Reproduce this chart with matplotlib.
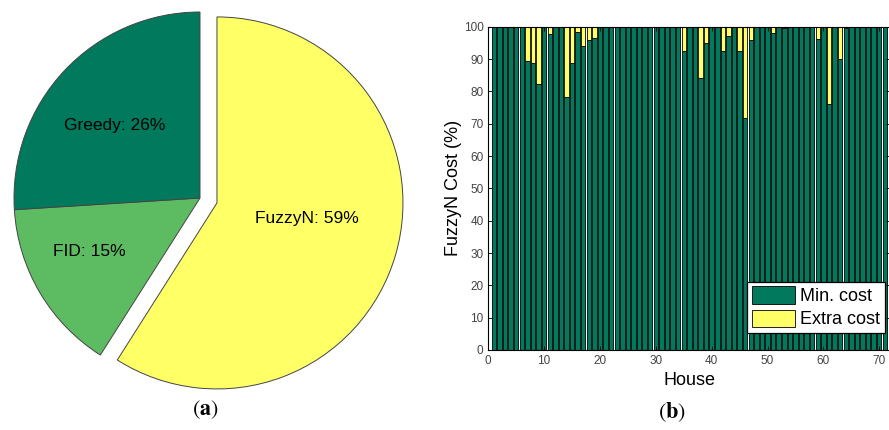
import numpy as np
import matplotlib
matplotlib.use("Agg")
import matplotlib.pyplot as plt

plt.rcParams['font.family'] = ['Liberation Sans', 'DejaVu Sans']
plt.rcParams['mathtext.fontset'] = 'stix'

# (a) share of houses where each method gives the cheapest schedule
methods = ["FuzzyN", "FID", "Greedy"]
shares = [59, 15, 26]
pie_colors = ["#ffff66", "#5dbb62", "#00795c"]

# (b) FuzzyN cost per house, split into minimum and extra part (%)
houses = np.arange(1, 72)
min_cost = [
    100, 100, 100, 100, 100, 100, 89.4, 88.8, 82.3, 100,
    97.6, 100, 100, 78.4, 88.9, 98.5, 93.9, 95.8, 96.6, 100,
    100, 100, 100, 100, 100, 100, 100, 100, 100, 100,
    100, 100, 100, 100, 92.4, 100, 100, 84.0, 94.9, 100,
    100, 92.4, 97.2, 100, 92.5, 71.8, 95.9, 100, 100, 100,
    97.9, 100, 99.6, 100, 100, 100, 100, 100, 96.3, 100,
    76.2, 100, 89.9, 99.6, 100, 100, 100, 100, 100, 100,
    100,
]
extra_cost = [
    0, 0, 0, 0, 0, 0, 10.6, 11.2, 17.7, 0,
    2.4, 0, 0, 21.6, 11.1, 1.5, 6.1, 4.2, 3.4, 0,
    0, 0, 0, 0, 0, 0, 0, 0, 0, 0,
    0, 0, 0, 0, 7.6, 0, 0, 16.0, 5.1, 0,
    0, 7.6, 2.8, 0, 7.5, 28.2, 4.1, 0, 0, 0,
    2.1, 0, 0.4, 0, 0, 0, 0, 0, 3.7, 0,
    23.8, 0, 10.1, 0.4, 0, 0, 0, 0, 0, 0,
    0,
]

W, H = 889, 430
fig = plt.figure(figsize=(W / 100, H / 100), dpi=100)

# ---- pie ----
ax1 = fig.add_axes([0, 30 / H, 420 / W, 400 / H])
labels = [f"{m}: {s}%" for m, s in zip(methods, shares)]
wedges, texts = ax1.pie(shares, labels=labels, colors=pie_colors,
                        startangle=90, counterclock=False,
                        explode=[0.095, 0, 0], labeldistance=0.6,
                        wedgeprops=dict(edgecolor="#444444", linewidth=0.7),
                        textprops=dict(fontsize=12.5, color="black"))
label_pos = [(0.575, -0.108), (-0.597, -0.285), (-0.457, 0.392)]
for t, p in zip(texts, label_pos):
    t.set_position(p)
    t.set_ha("center")
    t.set_va("center")
ax1.set_xlim(-200 / 186, 220 / 186)
ax1.set_ylim(-202 / 186, 198 / 186)
ax1.set_aspect("auto")
ax1.axis("off")

# ---- stacked bars ----
px = 5.585
ax2 = fig.add_axes([488.3 / W, 80 / H, 72 * px / W, 323.3 / H])
ax2.bar(houses, min_cost, width=0.8, color="#00795c", edgecolor="black",
        linewidth=0.6, label="Min. cost")
ax2.bar(houses, extra_cost, bottom=min_cost, width=0.8, color="#ffff66",
        edgecolor="black", linewidth=0.6, label="Extra cost")
ax2.set_xlim(0, 72)
ax2.set_ylim(0, 100)
ax2.set_xticks(np.arange(0, 71, 10))
ax2.set_yticks(np.arange(0, 101, 10))
ax2.tick_params(direction="in", top=True, right=True, length=3,
                labelsize=8.5, labelcolor="#444444", width=0.6)
for s in ax2.spines.values():
    s.set_linewidth(0.8)
ax2.set_xlabel("House", fontsize=13, labelpad=4)
ax2.set_ylabel("FuzzyN Cost (%)", fontsize=13, labelpad=1)
leg = ax2.legend(loc="lower right", bbox_to_anchor=(0.9865, 0.0526),
                 borderaxespad=0, fontsize=13, fancybox=False,
                 framealpha=1, edgecolor="black", handlelength=2.4,
                 handleheight=1.1, handletextpad=0.3, borderpad=0.25,
                 labelspacing=0.25)
leg.get_frame().set_linewidth(0.9)

# ---- captions ----
fig.text(205 / W, 1 - 410 / H, r"($\mathbf{a}$)", fontsize=16,
         family="STIXGeneral", ha="center", va="center")
fig.text(672 / W, 1 - 412 / H, r"($\mathbf{b}$)", fontsize=16,
         family="STIXGeneral", ha="center", va="center")

fig.savefig("out.png", dpi=100)
